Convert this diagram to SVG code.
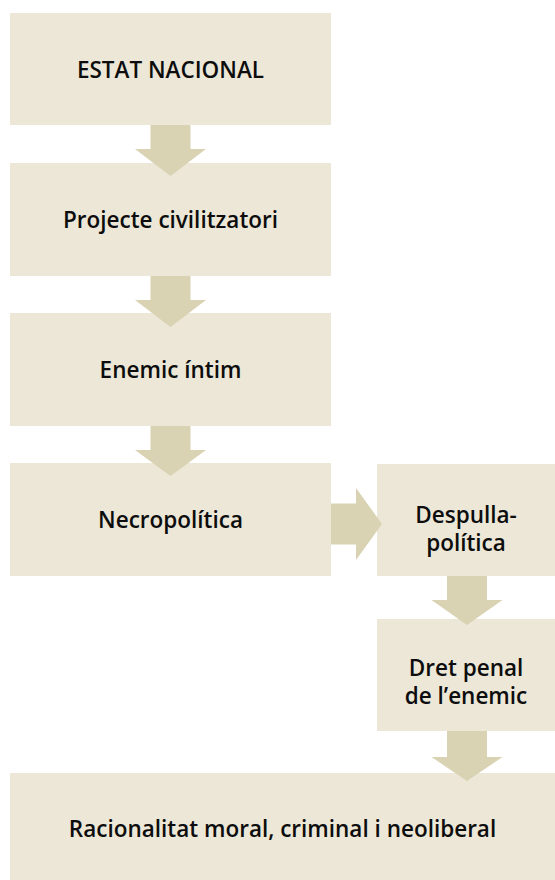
<svg xmlns="http://www.w3.org/2000/svg" width="555" height="880" viewBox="0 0 555 880">
  <style>
    .box { fill: #ece7d7; }
    .arr { fill: #d9d3b3; }
    .lbl { font-family: "Open Sans", "Liberation Sans", sans-serif; font-weight: 600; font-size: 22.5px; fill: #0d0d0d; text-anchor: middle; }
  </style>
  <rect width="555" height="880" fill="#ffffff"/>
  <g id="n1">
    <rect class="box" x="10" y="13" width="321" height="112"/>
    <text class="lbl" x="170.5" y="77.5">ESTAT NACIONAL</text>
  </g>
  <g id="n2">
    <rect class="box" x="10" y="163" width="321" height="113"/>
    <text class="lbl" x="170.5" y="227.5">Projecte civilitzatori</text>
  </g>
  <g id="n3">
    <rect class="box" x="10" y="313" width="321" height="113"/>
    <text class="lbl" x="170.5" y="377.5">Enemic íntim</text>
  </g>
  <g id="n4">
    <rect class="box" x="10" y="463" width="321" height="113"/>
    <text class="lbl" x="170.5" y="527.5">Necropolítica</text>
  </g>
  <g id="n5">
    <rect class="box" x="377" y="464" width="178" height="112"/>
    <text class="lbl" x="466" y="523">Despulla-</text>
    <text class="lbl" x="466" y="551">política</text>
  </g>
  <g id="n6">
    <rect class="box" x="377" y="619" width="178" height="112"/>
    <text class="lbl" x="466" y="675.5">Dret penal</text>
    <text class="lbl" x="466" y="703.5">de l’enemic</text>
  </g>
  <g id="n7">
    <rect class="box" x="10" y="773" width="545" height="107"/>
    <text class="lbl" x="282.5" y="837">Racionalitat moral, criminal i neoliberal</text>
  </g>
  <g id="connectors">
    <polygon class="arr" points="150.5,125 190.5,125 190.5,149 206,149 170.5,176 135,149 150.5,149"/>
    <polygon class="arr" points="150.5,276 190.5,276 190.5,300 206,300 170.5,327 135,300 150.5,300"/>
    <polygon class="arr" points="150.5,426 190.5,426 190.5,450 206,450 170.5,476 135,450 150.5,450"/>
    <polygon class="arr" points="331,503.5 356,503.5 356,488 382,524 356,560 356,544.5 331,544.5"/>
    <polygon class="arr" points="447,576 487,576 487,600 502.5,600 467,625 431.5,600 447,600"/>
    <polygon class="arr" points="447,731 487,731 487,757 502.5,757 467,781 431.5,757 447,757"/>
  </g>
</svg>
